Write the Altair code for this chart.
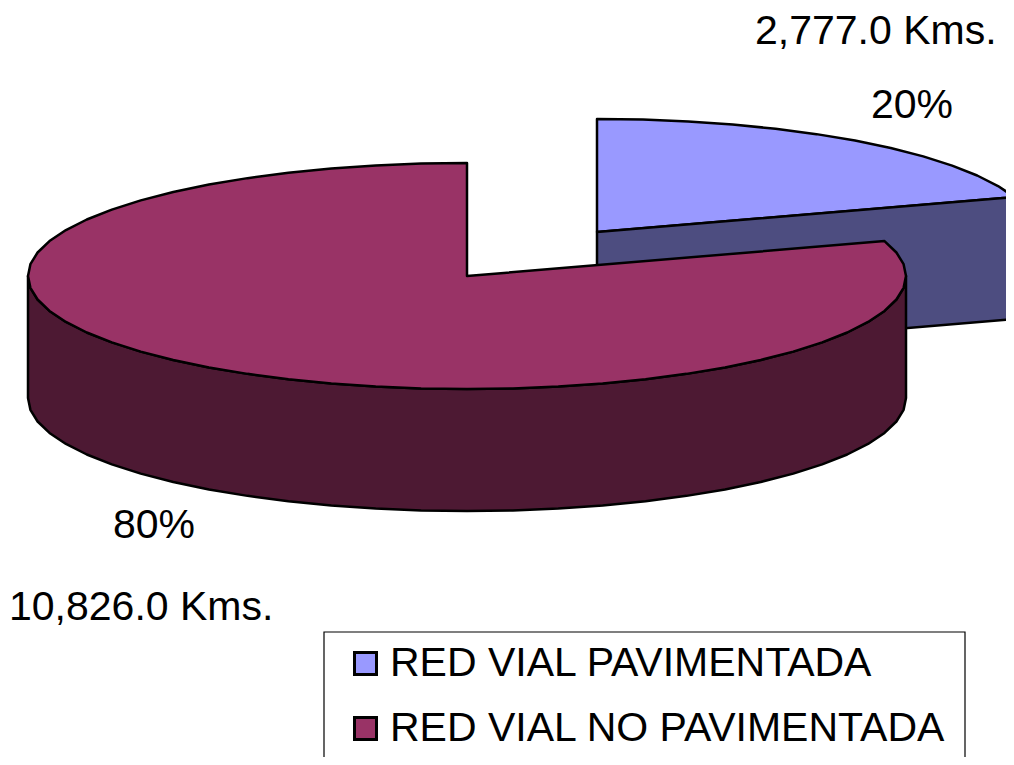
import math
import altair as alt
import pandas as pd

names = ["RED VIAL PAVIMENTADA", "RED VIAL NO PAVIMENTADA"]
kms = ["2,777.0 Kms.", "10,826.0 Kms."]
shares = [20, 80]
top_colors = ["#9999FF", "#993366"]
side_colors = ["#4D4D80", "#4D1933"]

RX, RY, DEPTH = 439, 113, 122
STEP = 6
BLUE_C = (597, 232)
RED_C = (467, 276)
W, H = 1006, 757


def pt(c, deg, drop=0):
    t = math.radians(deg)
    return (c[0] + RX * math.sin(t), c[1] - RY * math.cos(t) + drop)


def arc(c, a, b, drop=0):
    n = max(1, round(abs(b - a) / STEP))
    return [pt(c, a + (b - a) * k / n, drop) for k in range(n + 1)]


split = 360 * shares[0] / sum(shares)
polys = {
    "blue_side": [BLUE_C, pt(BLUE_C, split), pt(BLUE_C, split, DEPTH), (BLUE_C[0], BLUE_C[1] + DEPTH)],
    "blue_top": [BLUE_C] + arc(BLUE_C, 0, split),
    "red_side": arc(RED_C, 90, 270) + arc(RED_C, 270, 90, DEPTH),
    "red_top": [RED_C] + arc(RED_C, split, 360),
}
rows = [
    {"part": p, "i": i, "x": xy[0], "y": xy[1]}
    for p, v in polys.items()
    for i, xy in enumerate(v)
]
df = pd.DataFrame(rows)

X = alt.X("x:Q", scale=alt.Scale(domain=[8, W], nice=False, zero=False), axis=None)
Y = alt.Y("y:Q", scale=alt.Scale(domain=[H, 8], nice=False, zero=False), axis=None)


def poly(part, color):
    return (
        alt.Chart(df)
        .transform_filter(alt.datum.part == part)
        .mark_line(interpolate="linear-closed", fill=color, stroke="black", strokeWidth=2.5, strokeJoin="round")
        .encode(x=X, y=Y, order="i:Q")
    )


labels = pd.DataFrame(
    {
        "t": [kms[0], f"{shares[0]}%", f"{shares[1]}%", kms[1]],
        "x": [755, 871, 113, 9],
        "y": [44, 118, 538, 620],
    }
)
text = (
    alt.Chart(labels)
    .mark_text(font="Liberation Sans", fontSize=41, align="left", baseline="alphabetic", color="black")
    .encode(x=X, y=Y, text="t:N")
)

box_df = pd.DataFrame({"x": [324], "x2": [965], "y": [632], "y2": [790]})
box = (
    alt.Chart(box_df)
    .mark_rect(fill="white", stroke="black", strokeWidth=1.2)
    .encode(x=X, x2="x2:Q", y=Y, y2="y2:Q")
)

legend_df = pd.DataFrame({"name": names, "x": [100, 100], "y": [100, 100]})
legend_layer = (
    alt.Chart(legend_df)
    .mark_square(size=0)
    .encode(
        x=X,
        y=Y,
        color=alt.Color(
            "name:N",
            scale=alt.Scale(domain=names, range=top_colors),
            legend=alt.Legend(
                title=None,
                orient="none",
                legendX=337,
                legendY=635,
                zindex=1,
                symbolType="square",
                symbolSize=484,
                symbolStrokeColor="black",
                symbolStrokeWidth=3,
                symbolOpacity=1,
                labelFont="Liberation Sans",
                labelFontSize=41,
                labelColor="black",
                labelLimit=700,
                labelOffset=4,
                rowPadding=23,
                padding=0,
            ),
        ),
    )
)

chart = (
    alt.layer(
        poly("blue_top", top_colors[0]),
        poly("blue_side", side_colors[0]),
        poly("red_side", side_colors[1]),
        poly("red_top", top_colors[1]),
        text,
        box,
        legend_layer,
    )
    .properties(
        width=W - 8,
        height=H - 8,
        padding=0,
        autosize=alt.AutoSizeParams(type="none"),
        view=alt.ViewConfig(stroke="transparent", strokeWidth=0),
    )
    .configure_view(strokeWidth=0, stroke="transparent")
    .configure(background="white")
)

chart.save("out.html", embed_options={"renderer": "svg", "actions": False})
